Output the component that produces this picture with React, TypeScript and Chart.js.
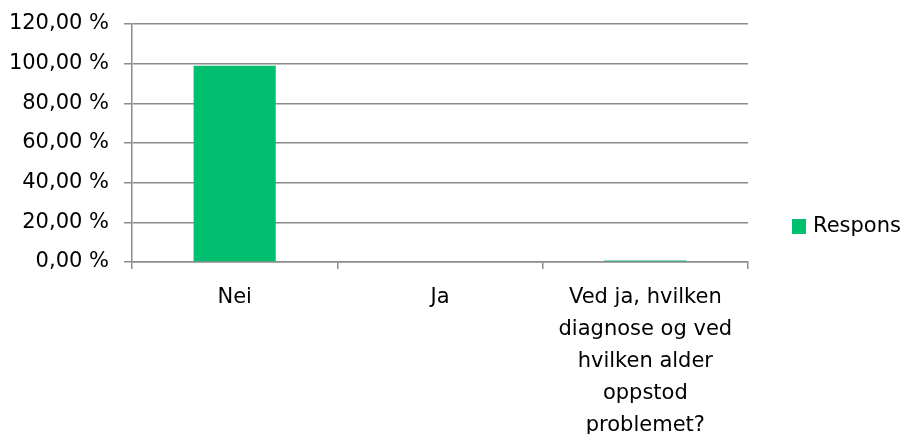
import React, { useEffect, useRef } from "react";
import { Chart, registerables } from "chart.js";

Chart.register(...registerables);

const categories: (string | string[])[] = [
  "Nei",
  "Ja",
  ["Ved ja, hvilken", "diagnose og ved", "hvilken alder", "oppstod", "problemet?"],
];
const responsValues: number[] = [99, 0, 0.8];
const seriesName = "Respons";
const barColor = "#00BF6F";
const gridColor = "#8C8C8C";
const FONT = "'DejaVu Sans', sans-serif";
const FONT_SIZE = 21;

const legendPlugin = {
  id: "customLegend",
  afterDraw(chart: any) {
    const ctx = chart.ctx;
    const area = chart.chartArea;
    const x = area.right + 44;
    const y = 227;
    ctx.save();
    ctx.fillStyle = barColor;
    ctx.fillRect(x, y - 8, 14, 15);
    ctx.fillStyle = "#000";
    ctx.font = `${FONT_SIZE}px ${FONT}`;
    ctx.textBaseline = "middle";
    ctx.textAlign = "left";
    ctx.fillText(seriesName, x + 21, y);
    ctx.restore();
  },
};

export default function App() {
  const ref = useRef<HTMLCanvasElement>(null);
  useEffect(() => {
    if (!ref.current) return;
    const chart = new Chart(ref.current, {
      type: "bar",
      data: {
        labels: categories,
        datasets: [
          {
            label: seriesName,
            data: responsValues,
            backgroundColor: barColor,
            categoryPercentage: 1,
            barPercentage: 0.4,
          },
        ],
      },
      options: {
        animation: false,
        responsive: true,
        maintainAspectRatio: false,
        layout: { padding: { top: 24, right: 157, left: 0, bottom: 0 } },
        plugins: { legend: { display: false }, tooltip: { enabled: false } },
        scales: {
          x: {
            afterFit: (s: any) => {
              s.height = 182;
            },
            grid: {
              offset: true,
              drawOnChartArea: false,
              drawTicks: true,
              tickLength: 7,
              color: gridColor,
              lineWidth: 1.5,
            },
            border: { color: gridColor, width: 1.5 },
            ticks: {
              color: "#000",
              font: { family: FONT, size: FONT_SIZE, lineHeight: 1.52 },
              maxRotation: 0,
              autoSkip: false,
              padding: 13,
            },
          },
          y: {
            min: 0,
            max: 120,
            afterFit: (s: any) => {
              s.width = 132;
              s.paddingTop = 0;
              s.paddingBottom = 0;
            },
            ticks: {
              stepSize: 20,
              color: "#000",
              font: { family: FONT, size: FONT_SIZE },
              padding: 15,
              callback: (v: any) => Number(v).toFixed(2).replace(".", ",") + " %",
            },
            grid: {
              color: gridColor,
              lineWidth: 1.5,
              drawTicks: true,
              tickLength: 8,
            },
            border: { color: gridColor, width: 1.5 },
          },
        },
      },
      plugins: [legendPlugin],
    });
    return () => chart.destroy();
  }, []);
  return (
    <div style={{ position: "fixed", left: 0, top: 0, width: 905, height: 434, overflow: "hidden", background: "#fff" }}>
      <div style={{ position: "relative", width: 905, height: 444 }}>
        <canvas ref={ref} />
      </div>
    </div>
  );
}
